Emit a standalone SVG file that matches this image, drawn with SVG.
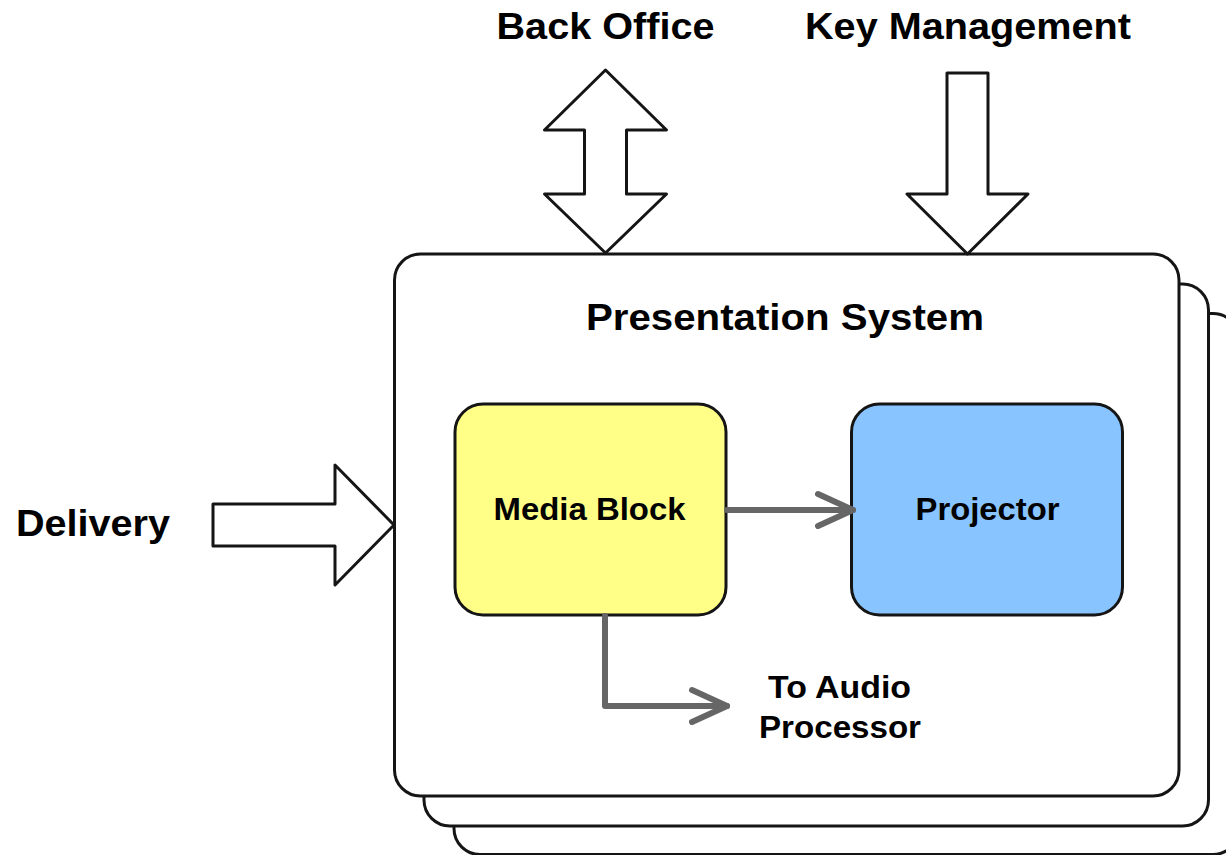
<svg xmlns="http://www.w3.org/2000/svg" width="1226" height="855" viewBox="0 0 1226 855">
  <style>
    .frame { fill: #ffffff; stroke: #151515; stroke-width: 3; }
    .block { stroke: #151515; stroke-width: 3; stroke-linejoin: round; }
    .fat { fill: #ffffff; stroke: #151515; stroke-width: 3; stroke-linejoin: round; }
    .flow { fill: none; stroke: #666666; stroke-width: 6; stroke-linecap: round; stroke-linejoin: round; }
    .big { font-family: "Liberation Sans", Arial, sans-serif; font-weight: bold; font-size: 36px; fill: #000000; text-anchor: middle; }
    .lbl { font-family: "Liberation Sans", Arial, sans-serif; font-weight: bold; font-size: 32px; fill: #000000; text-anchor: middle; }
    .sm { font-family: "Liberation Sans", Arial, sans-serif; font-weight: bold; font-size: 31px; fill: #000000; text-anchor: middle; }
  </style>
  <defs>
    <marker id="chev" markerUnits="userSpaceOnUse" markerWidth="44" markerHeight="40" refX="36" refY="18" orient="auto" overflow="visible">
      <path d="M1,2 L36,18 L1,34" fill="none" stroke="#666666" stroke-width="6" stroke-linecap="round" stroke-linejoin="round"/>
    </marker>
  </defs>

  <rect width="1226" height="855" fill="#ffffff"/>

  <g id="presentation-system">
    <rect class="frame" x="454" y="313.5" width="785" height="541" rx="26"/>
    <rect class="frame" x="424" y="284" width="784.5" height="542" rx="26"/>
    <rect class="frame" x="394.5" y="254" width="784.5" height="542" rx="26"/>
    <text class="big" x="785" y="330" textLength="398" lengthAdjust="spacingAndGlyphs">Presentation System</text>
  </g>

  <g id="media-block">
    <rect class="block" x="455" y="404" width="271" height="211" rx="28" fill="#ffff88"/>
    <text class="lbl" x="589.5" y="520" textLength="192" lengthAdjust="spacingAndGlyphs">Media Block</text>
  </g>

  <g id="projector">
    <rect class="block" x="851.5" y="404" width="271" height="211" rx="28" fill="#88c4ff"/>
    <text class="lbl" x="987.5" y="520" textLength="144" lengthAdjust="spacingAndGlyphs">Projector</text>
  </g>

  <g id="back-office">
    <text class="big" x="605.5" y="39" textLength="218" lengthAdjust="spacingAndGlyphs">Back Office</text>
  </g>

  <g id="key-management">
    <text class="big" x="968" y="39" textLength="326" lengthAdjust="spacingAndGlyphs">Key Management</text>
  </g>

  <g id="delivery">
    <text class="big" x="93" y="536" textLength="154" lengthAdjust="spacingAndGlyphs">Delivery</text>
  </g>

  <g id="audio-processor">
    <text class="sm" x="839.5" y="698" textLength="143" lengthAdjust="spacingAndGlyphs">To Audio</text>
    <text class="sm" x="840" y="738" textLength="162" lengthAdjust="spacingAndGlyphs">Processor</text>
  </g>

  <g id="connectors">
    <polygon class="fat" points="605.5,70 666.5,130 626.5,130 626.5,194 666.5,194 605.5,253 544.5,194 584.5,194 584.5,130 544.5,130"/>
    <polygon class="fat" points="947,73 988,73 988,194 1028,194 967.5,254 907,194 947,194"/>
    <polygon class="fat" points="213,504 335,504 335,465 394,525 335,585 335,546 213,546"/>
    <line class="flow" x1="727" y1="510" x2="853" y2="510" marker-end="url(#chev)"/>
    <path class="flow" d="M605,616 V706 H727" marker-end="url(#chev)"/>
  </g>
</svg>
